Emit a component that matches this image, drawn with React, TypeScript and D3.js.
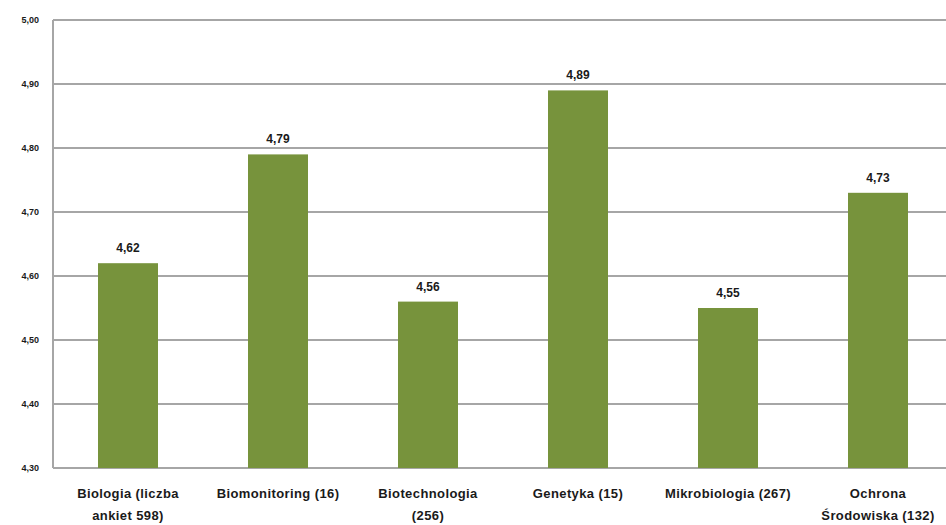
import React, { useEffect, useRef } from "react";
import * as d3 from "d3";

const categories: string[][] = [
  ["Biologia (liczba", "ankiet 598)"],
  ["Biomonitoring (16)"],
  ["Biotechnologia", "(256)"],
  ["Genetyka (15)"],
  ["Mikrobiologia (267)"],
  ["Ochrona", "Środowiska (132)"],
];
const values: number[] = [4.62, 4.79, 4.56, 4.89, 4.55, 4.73];
const yTicks: number[] = [4.3, 4.4, 4.5, 4.6, 4.7, 4.8, 4.9, 5.0];

const fmt = (v: number) => v.toFixed(2).replace(".", ",");

const App: React.FC = () => {
  const svgRef = useRef<SVGSVGElement>(null);

  useEffect(() => {
    const svg = d3.select(svgRef.current);
    svg.selectAll("*").remove();

    const left = 53;
    const top = 20;
    const bottom = 468;
    const plotWidth = 900;

    const x = d3
      .scaleBand<number>()
      .domain(d3.range(values.length))
      .range([left, left + plotWidth])
      .paddingInner(0.6)
      .paddingOuter(0.3);

    const y = d3.scaleLinear().domain([4.3, 5.0]).range([bottom, top]);

    const font = "'Liberation Sans', Arial, sans-serif";

    // gridlines
    svg
      .append("g")
      .selectAll("line")
      .data(yTicks)
      .join("line")
      .attr("x1", left)
      .attr("x2", left + plotWidth)
      .attr("y1", (d) => y(d))
      .attr("y2", (d) => y(d))
      .attr("stroke", "#a6a6a6")
      .attr("stroke-width", 2);

    // left axis line
    svg
      .append("line")
      .attr("x1", left)
      .attr("x2", left)
      .attr("y1", top)
      .attr("y2", bottom)
      .attr("stroke", "#a6a6a6")
      .attr("stroke-width", 2);

    // tick labels
    svg
      .append("g")
      .selectAll("text")
      .data(yTicks)
      .join("text")
      .attr("x", left - 14)
      .attr("y", (d) => y(d))
      .attr("dy", "0.35em")
      .attr("text-anchor", "end")
      .attr("font-family", font)
      .attr("font-weight", "bold")
      .attr("font-size", 9)
      .attr("fill", "#1a1a1a")
      .text((d) => fmt(d));

    // bars
    svg
      .append("g")
      .selectAll("rect")
      .data(values)
      .join("rect")
      .attr("x", (_, i) => x(i) as number)
      .attr("y", (d) => y(d))
      .attr("width", x.bandwidth())
      .attr("height", (d) => bottom - y(d))
      .attr("fill", "#77933c");

    // value labels
    svg
      .append("g")
      .selectAll("text")
      .data(values)
      .join("text")
      .attr("x", (_, i) => (x(i) as number) + x.bandwidth() / 2)
      .attr("y", (d) => y(d) - 11)
      .attr("text-anchor", "middle")
      .attr("font-family", font)
      .attr("font-weight", "bold")
      .attr("font-size", 12)
      .attr("fill", "#1a1a1a")
      .text((d) => fmt(d));

    // category labels
    const cat = svg
      .append("g")
      .selectAll("text")
      .data(categories)
      .join("text")
      .attr("x", (_, i) => (x(i) as number) + x.bandwidth() / 2)
      .attr("y", 498)
      .attr("text-anchor", "middle")
      .attr("font-family", font)
      .attr("font-weight", "bold")
      .attr("font-size", 13)
      .attr("letter-spacing", 0.4)
      .attr("fill", "#1a1a1a");

    cat
      .selectAll("tspan")
      .data((d) => d)
      .join("tspan")
      .attr("x", function () {
        return (this.parentNode as SVGTextElement).getAttribute("x");
      })
      .attr("dy", (_, j) => (j === 0 ? 0 : 22))
      .text((d) => d);
  }, []);

  return (
    <svg
      ref={svgRef}
      width={946}
      height={525}
      style={{ position: "absolute", left: 0, top: 0, background: "#fff" }}
    />
  );
};

export default App;
